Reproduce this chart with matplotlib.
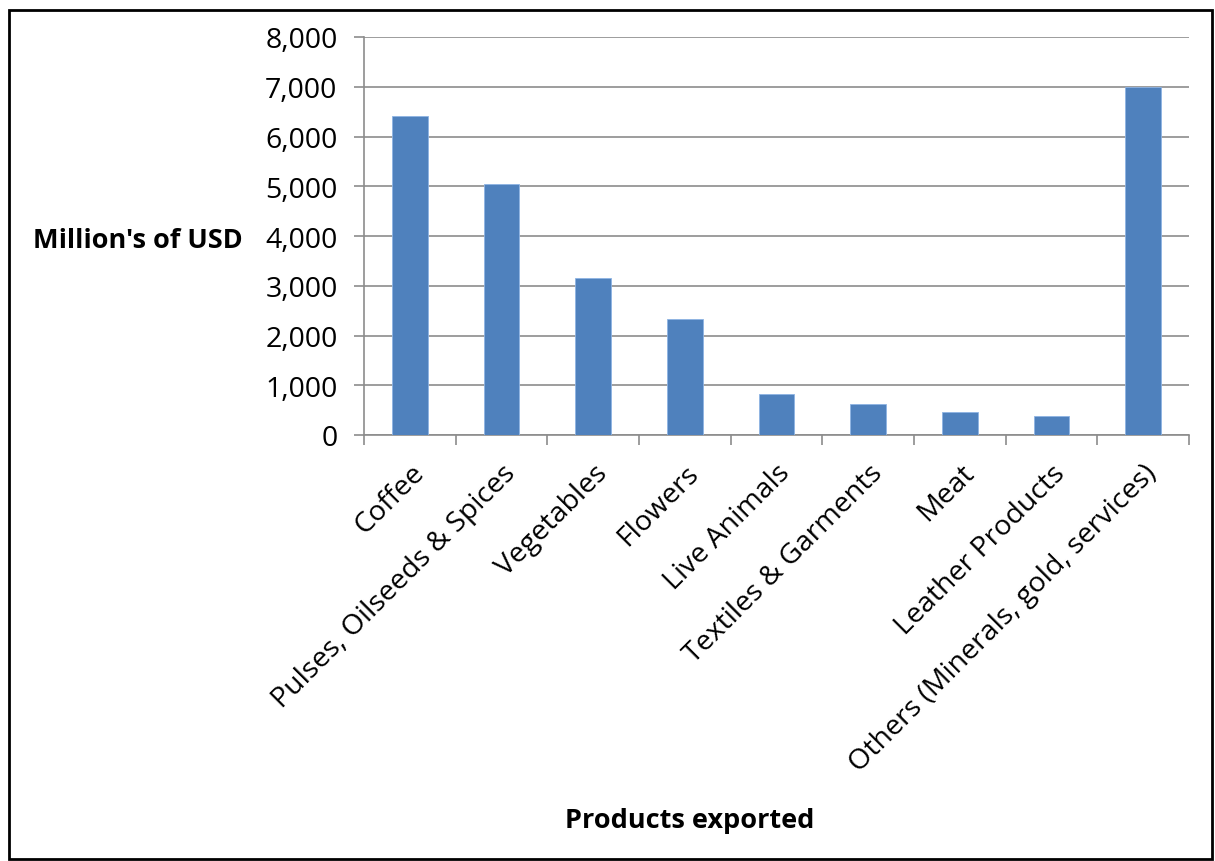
import matplotlib.pyplot as plt
import matplotlib.patches as mpatches
from matplotlib.ticker import FuncFormatter, FixedLocator
import numpy as np

# Export values (million USD)
products = ['Coffee', 'Pulses, Oilseeds & Spices', 'Vegetables', 'Flowers',
            'Live Animals', 'Textiles & Garments', 'Meat', 'Leather Products',
            'Others (Minerals, gold, services)']
values = [6410, 5050, 3150, 2330, 815, 615, 455, 375, 7000]
yticks = [0, 1000, 2000, 3000, 4000, 5000, 6000, 7000, 8000]

plt.rcParams['font.family'] = ['Open Sans', 'DejaVu Sans']

W, H = 1215, 862
fig = plt.figure(figsize=(W / 100, H / 100), dpi=100)
ax = fig.add_axes([364 / W, 1 - 436 / H, (1189 - 364) / W, (436 - 38) / H])

x = np.arange(len(products))
ax.bar(x, values, width=0.39, color='#4f81bd', edgecolor='#8eb4e3', linewidth=0.6, zorder=3)

ax.set_xlim(-0.5, len(products) - 0.5)
ax.set_ylim(0, 8000)
ax.set_yticks(yticks)
ax.yaxis.set_major_formatter(FuncFormatter(lambda v, p: f'{int(v):,}'))
ax.grid(axis='y', color='#8c8c8c', linewidth=1.2, zorder=0)

# ticks at category boundaries, labels at centres
ax.xaxis.set_major_locator(FixedLocator(np.arange(len(products) + 1) - 0.5))
ax.set_xticklabels([])
ax.xaxis.set_minor_locator(FixedLocator(x))
ax.set_xticklabels(products, minor=True, rotation=45, ha='right',
                   rotation_mode='anchor', fontsize=20.5)
ax.tick_params(axis='x', which='minor', length=0, pad=17)
ax.tick_params(axis='x', which='major', length=7, width=1.2, color='#8c8c8c', direction='out')
ax.tick_params(axis='y', length=7, width=1.2, color='#8c8c8c', labelsize=20.5, pad=12)

for s in ['top', 'right']:
    ax.spines[s].set_visible(False)
for s in ['left', 'bottom']:
    ax.spines[s].set_color('#8c8c8c')
    ax.spines[s].set_linewidth(1.2)

fig.text(243 / W, 1 - 241 / H, "Million's of USD", ha='right', va='center',
         fontsize=19.5, fontweight='bold')
fig.text(690 / W, 1 - 821 / H, 'Products exported', ha='center', va='center',
         fontsize=19.5, fontweight='bold')

# chart area border
fig.patches.append(mpatches.Rectangle((9 / W, 0.002), (1212 - 9) / W, 1 - 11 / H - 0.002,
                                      transform=fig.transFigure, fill=False,
                                      edgecolor='black', linewidth=2))

fig.savefig('out.png', dpi=100)
